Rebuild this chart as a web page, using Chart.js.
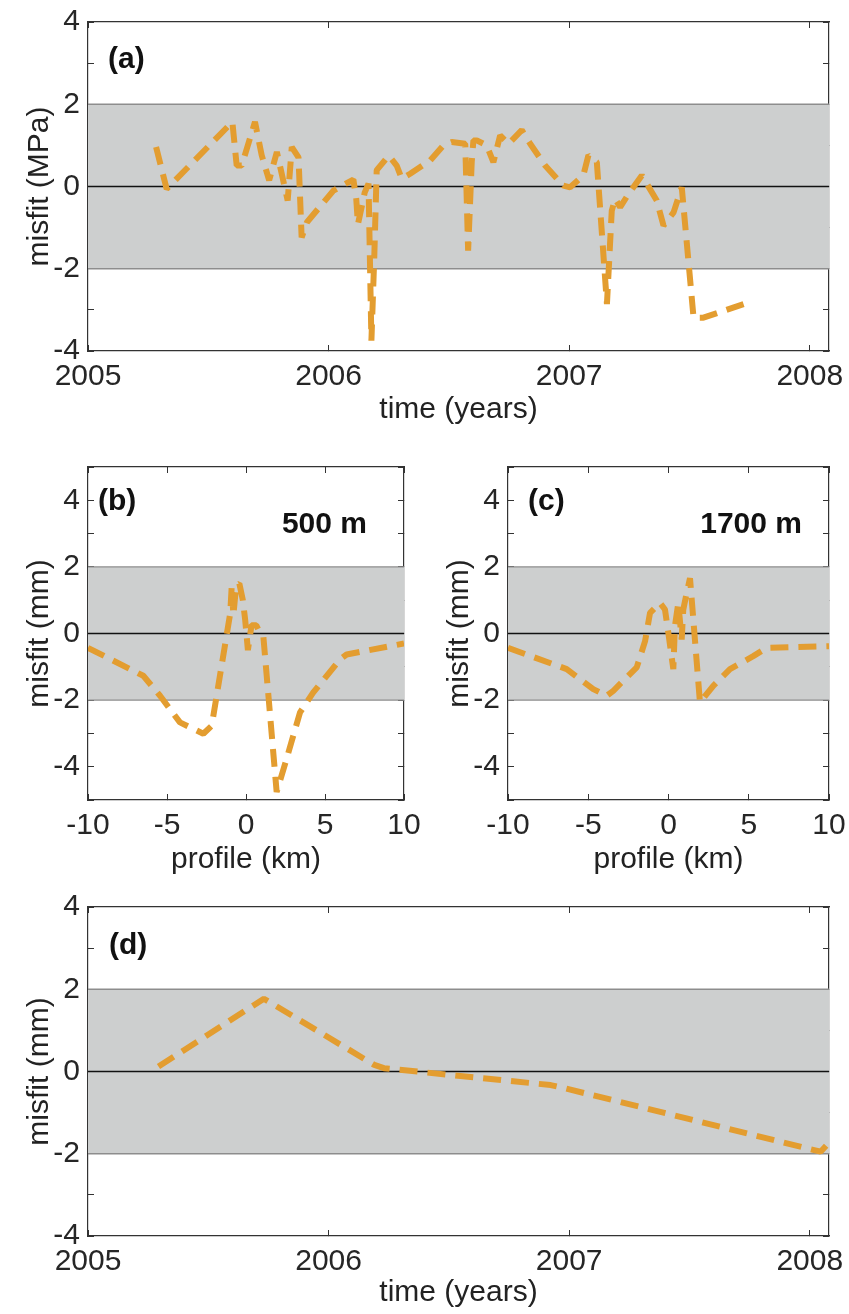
<!DOCTYPE html>
<html><head><meta charset="utf-8">
<script src="https://cdn.jsdelivr.net/npm/chart.js@4.4.1/dist/chart.umd.min.js"></script>
<style>
html,body{margin:0;padding:0;background:#fff;}
body{width:849px;height:1314px;position:relative;overflow:hidden;}
canvas{position:absolute;}
</style></head><body>
<canvas id="ca" width="849" height="440" style="left:0;top:0"></canvas>
<canvas id="cb" width="424" height="460" style="left:0;top:440px"></canvas>
<canvas id="cc" width="429" height="460" style="left:420px;top:440px"></canvas>
<canvas id="cd" width="849" height="434" style="left:0;top:880px"></canvas>
<script>
// ---- data ----
const aTime = [2005.283,2005.327,2005.600,2005.618,2005.639,2005.694,2005.722,2005.753,2005.785,2005.830,2005.847,2005.875,2005.888,2005.910,2006.020,2006.103,2006.115,2006.122,2006.150,2006.166,2006.178,2006.190,2006.200,2006.250,2006.283,2006.304,2006.339,2006.422,2006.477,2006.512,2006.568,2006.580,2006.595,2006.602,2006.616,2006.657,2006.685,2006.713,2006.748,2006.803,2006.838,2006.900,2006.976,2007.004,2007.059,2007.080,2007.115,2007.157,2007.177,2007.191,2007.212,2007.247,2007.302,2007.364,2007.392,2007.434,2007.468,2007.517,2007.558,2007.725];
const aMisfit = [0.96,-0.06,1.57,0.51,0.51,1.57,0.76,0.15,0.84,-0.34,0.96,0.71,-1.24,-0.87,-0.10,0.17,-0.30,-0.92,-0.15,0.07,-3.75,-1.70,0.40,0.75,0.51,0.19,0.31,0.63,1.00,1.08,1.04,-1.56,0.60,1.12,1.12,1.00,0.59,1.24,1.04,1.37,1.04,0.51,0.02,-0.02,0.27,0.76,0.59,-2.86,-0.59,-0.30,-0.50,-0.18,0.27,-0.34,-0.95,-0.63,-0.02,-3.19,-3.19,-2.86];

const bProfile = [-10,-6.5,-5.44,-4.18,-2.70,-2.17,-1.00,-0.90,-0.80,-0.62,-0.42,-0.20,-0.05,0.12,0.35,0.65,0.80,1.10,1.94,2.57,3.42,4.26,5.95,6.37,10];
const bMisfit = [-0.43,-1.27,-1.87,-2.67,-3.01,-2.77,0.60,1.45,0.55,1.45,1.50,1.00,0.40,-0.50,0.25,0.25,0.10,-0.10,-4.76,-3.76,-2.37,-1.77,-0.78,-0.63,-0.30];

const cProfile = [-10,-6.34,-4.69,-3.85,-3.44,-1.98,-1.46,-1.15,-0.53,-0.22,-0.01,0.30,0.40,0.61,0.82,0.92,1.13,1.34,1.96,2.79,3.83,5.28,6.12,10];
const cMisfit = [-0.43,-1.07,-1.67,-1.87,-1.72,-1.02,-0.23,0.62,0.92,0.72,0.02,-1.07,0.22,0.92,-0.18,0.72,1.21,1.66,-2.07,-1.57,-1.07,-0.68,-0.43,-0.38];

const dTime = [2005.293,2005.731,2006.190,2006.230,2006.923,2006.984,2008.045,2008.085];
const dMisfit = [0.12,1.77,0.16,0.08,-0.33,-0.41,-1.95,-1.70];

const bandLimits = [-2, 2];
const timeRange = [2005, 2008.08];
const profileRange = [-10, 10];
const stressRange = [-4, 4];
const dispRange = [-4, 4];
const profDispRange = [-5, 5];

// ---- rendering ----
const FONT = "'Liberation Sans', Arial, Helvetica, sans-serif";
const FS = 30;
Chart.defaults.font.family = FONT;
Chart.defaults.font.size = FS;
Chart.defaults.color = '#262626';
const ORANGE = '#e39d30';
const AXIS = '#333333';

const panelText = {
  id: 'panelText',
  afterDraw(chart, args, opts) {
    const {ctx, chartArea: a} = chart;
    (opts.items || []).forEach(it => {
      ctx.save();
      ctx.font = 'bold 30px ' + FONT;
      ctx.fillStyle = '#111';
      ctx.textBaseline = 'middle';
      ctx.textAlign = it.align;
      const x = it.align === 'left' ? a.left + it.dx : a.right - it.dx;
      ctx.fillText(it.text, x, a.top + it.dy);
      ctx.restore();
    });
  }
};

function pts(xs, ys) { return xs.map((x, i) => ({x, y: ys[i]})); }

function makeChart(id, c) {
  const [xMin, xMax] = c.xRange;
  const [yMin, yMax] = c.yRange;
  const gridOpt = {drawOnChartArea: false, drawTicks: true, tickLength: -6, color: AXIS, lineWidth: 1};
  const borderOpt = {display: true, color: AXIS, width: 1.2};
  const noPad = s => { s.paddingTop = 0; s.paddingBottom = 0; s.paddingLeft = 0; s.paddingRight = 0; };
  const datasets = [
    {data: pts(c.xs, c.ys), borderColor: ORANGE, borderWidth: 6, borderDash: [18, 10], borderCapStyle: 'butt', borderJoinStyle: 'bevel', pointRadius: 0, fill: false, tension: 0},
    {data: [{x: xMin, y: 0}, {x: xMax, y: 0}], borderColor: '#111', borderWidth: 1.6, pointRadius: 0, fill: false},
    {data: [{x: xMin, y: bandLimits[1]}, {x: xMax, y: bandLimits[1]}], borderColor: '#8d8d8d', borderWidth: 1.3, pointRadius: 0, fill: false},
    {data: [{x: xMin, y: bandLimits[0]}, {x: xMax, y: bandLimits[0]}], borderColor: '#8d8d8d', borderWidth: 1.3, pointRadius: 0, fill: '-1', backgroundColor: '#cdcfcf'}
  ];
  return new Chart(document.getElementById(id), {
    type: 'line',
    data: {datasets},
    plugins: [panelText],
    options: {
      responsive: false,
      animation: false,
      events: [],
      layout: {padding: {left: 0, top: c.padTop, right: c.padRight, bottom: 0}},
      plugins: {legend: {display: false}, tooltip: {enabled: false}, panelText: {items: c.texts}},
      scales: {
        x: {
          type: 'linear', position: 'bottom', min: xMin, max: xMax,
          ticks: {stepSize: c.xStep, includeBounds: false, autoSkip: false, maxRotation: 0, padding: 14, color: '#262626', font: {size: FS}, callback: v => String(v)},
          grid: gridOpt, border: borderOpt,
          title: {display: true, text: c.xTitle, color: '#222', font: {size: FS}, padding: {top: 0, bottom: c.xTitlePad}},
          afterFit: s => { s.height = c.xAxisH; noPad(s); }
        },
        x2: {
          type: 'linear', position: 'top', min: xMin, max: xMax,
          ticks: {display: false, stepSize: c.xStep, includeBounds: false},
          grid: gridOpt, border: borderOpt,
          afterFit: s => { s.height = 0; noPad(s); }
        },
        y: {
          type: 'linear', position: 'left', min: yMin, max: yMax,
          ticks: {stepSize: 1, includeBounds: false, autoSkip: false, padding: 14, color: '#262626', font: {size: FS}, callback: v => (Math.round(v) % 2 === 0 ? String(v) : '')},
          grid: gridOpt, border: borderOpt,
          title: {display: true, text: c.yTitle, color: '#222', font: {size: FS}, padding: {top: 22, bottom: 0}},
          afterFit: s => { s.width = 88; noPad(s); }
        },
        y2: {
          type: 'linear', position: 'right', min: yMin, max: yMax,
          ticks: {display: false, stepSize: 1, includeBounds: false},
          grid: gridOpt, border: borderOpt,
          afterFit: s => { s.width = 0; noPad(s); }
        }
      }
    }
  });
}

makeChart('ca', {xs: aTime, ys: aMisfit, xRange: timeRange, yRange: stressRange, xStep: 1,
  xTitle: 'time (years)', yTitle: 'misfit (MPa)', padTop: 22, padRight: 20, xAxisH: 89, xTitlePad: 12,
  texts: [{text: '(a)', align: 'left', dx: 20, dy: 38}]});
makeChart('cb', {xs: bProfile, ys: bMisfit, xRange: profileRange, yRange: profDispRange, xStep: 5,
  xTitle: 'profile (km)', yTitle: 'misfit (mm)', padTop: 27, padRight: 20, xAxisH: 100, xTitlePad: 22,
  texts: [{text: '(b)', align: 'left', dx: 10, dy: 35}, {text: '500 m', align: 'right', dx: 37, dy: 58}]});
makeChart('cc', {xs: cProfile, ys: cMisfit, xRange: profileRange, yRange: profDispRange, xStep: 5,
  xTitle: 'profile (km)', yTitle: 'misfit (mm)', padTop: 27, padRight: 20, xAxisH: 100, xTitlePad: 22,
  texts: [{text: '(c)', align: 'left', dx: 20, dy: 35}, {text: '1700 m', align: 'right', dx: 27, dy: 58}]});
makeChart('cd', {xs: dTime, ys: dMisfit, xRange: timeRange, yRange: dispRange, xStep: 1,
  xTitle: 'time (years)', yTitle: 'misfit (mm)', padTop: 27, padRight: 20, xAxisH: 78, xTitlePad: 3,
  texts: [{text: '(d)', align: 'left', dx: 21, dy: 39}]});
</script>
</body></html>
